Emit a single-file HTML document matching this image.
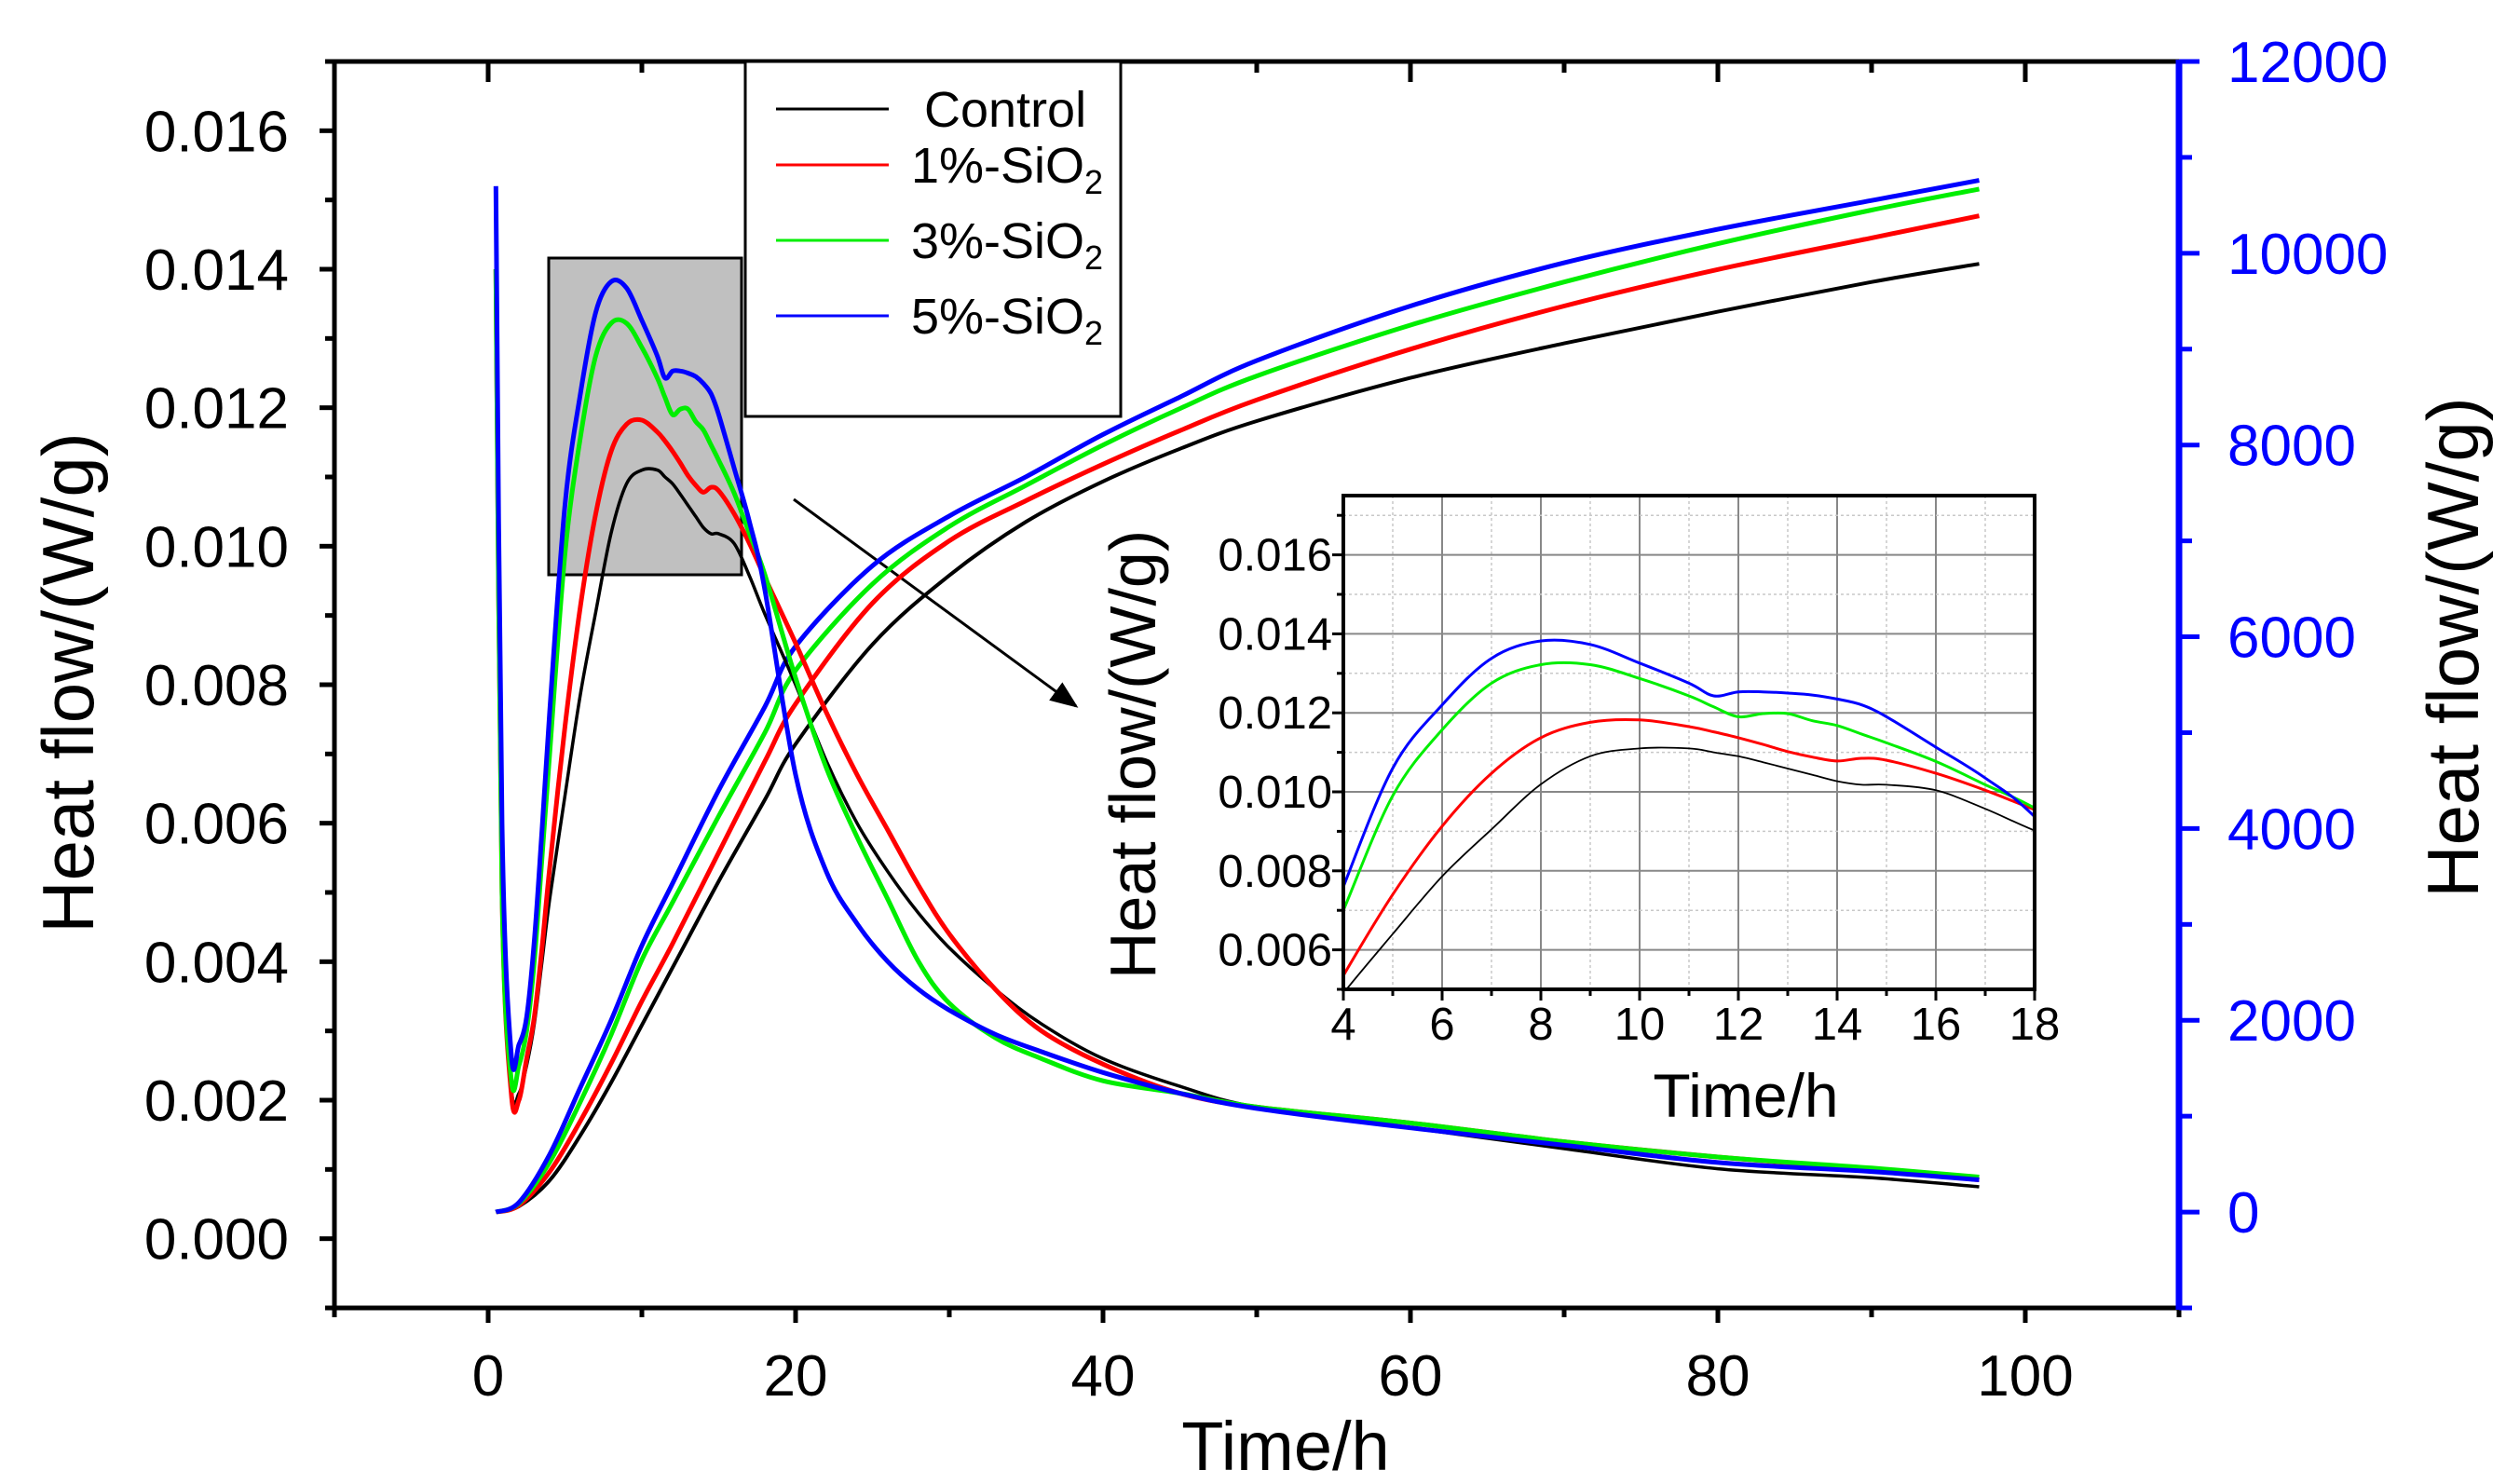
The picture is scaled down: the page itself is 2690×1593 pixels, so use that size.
<!DOCTYPE html>
<html><head><meta charset="utf-8"><style>
html,body{margin:0;padding:0;background:#fff;}
svg{display:block;font-family:"Liberation Sans",Arial,sans-serif;}
</style></head><body>
<svg id="chart" width="2690" height="1593" viewBox="0 0 2690 1593" xmlns="http://www.w3.org/2000/svg">
<defs>
<clipPath id="mainClip"><rect x="359" y="66" width="1980" height="1338"/></clipPath>
<clipPath id="insetClip"><rect x="1442" y="532" width="742" height="530"/></clipPath>
<marker id="arrowHead" markerWidth="10" markerHeight="8" refX="9" refY="4" orient="auto" markerUnits="strokeWidth"><path d="M0,0 L10,4 L0,8 Z" fill="#000"/></marker>
</defs>
<rect x="0" y="0" width="2690" height="1593" fill="#fff"/>
<g id="gridInset"></g>
<g id="highlight"></g>
<g id="series"></g>
<g id="axes"></g>
<g id="legend"></g>
</svg>
<script>
// ---- data ----
const hfTimes = [0.5,0.9,1.5,2,2.5,3,3.5,4,5,6,7,8,9,10,11,11.5,12,12.5,13,13.5,14,14.5,15,16,17,18,20,22,24,26,28,30,33,36,40,45,50,60,70,80,90,97];
const hfControl = [0.014,0.005,0.0022,0.0021,0.0025,0.0031,0.0040,0.0049,0.0064,0.00786,0.00905,0.01019,0.0109,0.0111,0.0111,0.0110,0.0109,0.01075,0.01059,0.01043,0.01027,0.01018,0.01018,0.01004,0.00957,0.00902,0.0080,0.0069,0.0060,0.0053,0.0047,0.0042,0.0036,0.0031,0.0026,0.0022,0.0019,0.0016,0.0013,0.00101,0.00088,0.00075];
const hfSi1 = [0.014,0.005,0.0021,0.0020,0.0026,0.0032,0.0042,0.00535,0.0074,0.00913,0.01047,0.01137,0.01176,0.01182,0.01165,0.01152,0.01137,0.0112,0.01102,0.01088,0.01078,0.01085,0.0108,0.01047,0.01004,0.00955,0.0086,0.0076,0.0067,0.0059,0.0051,0.0044,0.0036,0.0030,0.00252,0.0021,0.0019,0.00167,0.0014,0.00118,0.0010,0.00085];
const hfSi3 = [0.014,0.005,0.0023,0.0025,0.0030,0.0040,0.0055,0.0070,0.0099,0.01157,0.01275,0.01322,0.01322,0.01287,0.01243,0.01215,0.0119,0.01198,0.01198,0.0118,0.01168,0.01146,0.01124,0.01077,0.01018,0.00959,0.0081,0.0068,0.0058,0.0049,0.0040,0.0034,0.0029,0.0026,0.00228,0.0021,0.0019,0.00167,0.0014,0.00118,0.00102,0.00089];
const hfSi5 = [0.0152,0.006,0.00266,0.0028,0.0032,0.0043,0.0059,0.0076,0.0106,0.0122,0.01338,0.01382,0.01373,0.01326,0.01275,0.01243,0.01253,0.01253,0.0125,0.01245,0.01235,0.0122,0.0119,0.01113,0.01035,0.00937,0.0067,0.0053,0.00455,0.0040,0.0036,0.0033,0.00295,0.0027,0.0024,0.0021,0.00188,0.0016,0.00135,0.0011,0.00097,0.00085];
const cumTimes = [0.5,2,4,6,8,10,12,15,18,20,25,30,35,40,45,50,60,70,80,90,97];
const cumControl = [0,60,330,800,1350,1950,2550,3450,4300,4880,5920,6640,7200,7620,7960,8250,8700,9060,9390,9700,9890];
const cumSi1 = [0,70,420,950,1550,2200,2800,3750,4700,5300,6350,7000,7420,7800,8150,8470,9000,9450,9830,10160,10390];
const cumSi3 = [0,90,520,1150,1850,2630,3230,4130,5000,5650,6550,7150,7580,8000,8380,8720,9250,9700,10100,10450,10670];
const cumSi5 = [0,100,600,1300,2000,2780,3430,4400,5270,5900,6740,7260,7670,8110,8500,8880,9450,9900,10250,10550,10760];
const xTicks = [0,20,40,60,80,100];
const yLeftTicks = ["0.000","0.002","0.004","0.006","0.008","0.010","0.012","0.014","0.016"];
const yRightTicks = [0,2000,4000,6000,8000,10000,12000];
const insetXTicks = [4,6,8,10,12,14,16,18];
const insetYTicks = ["0.006","0.008","0.010","0.012","0.014","0.016"];
const seriesNames = ["Control","1%-SiO","3%-SiO","5%-SiO"];
const seriesColors = ["#000000","#ff0000","#00ee00","#0000ff"];

// ---- scales ----
const NS="http://www.w3.org/2000/svg";
const X0=359,X1=2339,Y0=66,Y1=1404;
const xS=v=>X0+(v+10)/120*(X1-X0);
const yL=v=>Y1-(v+0.001)/0.018*(Y1-Y0);
const yR=v=>Y1-(v+1000)/13000*(Y1-Y0);
const IX0=1442,IX1=2184,IY0=532,IY1=1062;
const ixS=v=>IX0+(v-4)/14*(IX1-IX0);
const iyS=v=>IY1-(v-0.005)/0.0125*(IY1-IY0);
function mk(tag,attrs,parent,text){const e=document.createElementNS(NS,tag);for(const k in attrs)e.setAttribute(k,attrs[k]);if(text!==undefined)e.textContent=text;parent.appendChild(e);return e;}
function pathD(xs,ys,fx,fy){const p=xs.map((x,i)=>[fx(x),fy(ys[i])]);let d="M"+p[0][0].toFixed(1)+","+p[0][1].toFixed(1);
 for(let i=0;i<p.length-1;i++){const a=p[Math.max(i-1,0)],b=p[i],c=p[i+1],e=p[Math.min(i+2,p.length-1)];
  const c1=[b[0]+(c[0]-a[0])/6,b[1]+(c[1]-a[1])/6],c2=[c[0]-(e[0]-b[0])/6,c[1]-(e[1]-b[1])/6];
  d+=" C"+c1[0].toFixed(1)+","+c1[1].toFixed(1)+" "+c2[0].toFixed(1)+","+c2[1].toFixed(1)+" "+c[0].toFixed(1)+","+c[1].toFixed(1);}
 return d;}
const gGrid=document.getElementById('gridInset'),gHi=document.getElementById('highlight'),gS=document.getElementById('series'),gA=document.getElementById('axes'),gL=document.getElementById('legend');

// highlight rect + arrow
let r=mk('rect',{x:589,y:277,width:207,height:340,fill:"#c0c0c0",stroke:"#000","stroke-width":3},gHi);


let ar=mk('line',{x1:852,y1:536,x2:1155,y2:758,stroke:"#000","stroke-width":3,"marker-end":"url(#arrowHead)"},gHi);



// main series
const hf=[hfControl,hfSi1,hfSi3,hfSi5],cum=[cumControl,cumSi1,cumSi3,cumSi5];
const mainG=mk('g',{"clip-path":"url(#mainClip)"},gS);
for(let i=0;i<4;i++){
 let p=mk('path',{d:pathD(cumTimes,cum[i],xS,yR),fill:"none",stroke:seriesColors[i],"stroke-width":i==0?4:5},mainG);
 
 
}
for(let i=0;i<4;i++){
 let p=mk('path',{d:pathD(hfTimes,hf[i],xS,yL),fill:"none",stroke:seriesColors[i],"stroke-width":i==0?3.5:5},mainG);
 
 
}

// main axes
mk('rect',{x:X0,y:Y0,width:X1-X0,height:Y1-Y0,fill:"none",stroke:"#000","stroke-width":5},gA);
for(let v=-10;v<=110;v+=10){const x=xS(v),maj=v%20==0;
 mk('line',{x1:x,y1:Y1,x2:x,y2:Y1+(maj?16:10),stroke:"#000","stroke-width":5},gA);
 mk('line',{x1:x,y1:Y0,x2:x,y2:Y0+(maj?22:12),stroke:"#000","stroke-width":5},gA);}
xTicks.forEach(v=>{let t=mk('text',{x:xS(v),y:1498,"font-size":62,"text-anchor":"middle"},gA,String(v));
 
 });
for(let k=-1;k<=17;k++){const v=k*0.001,y=yL(v);
 mk('line',{x1:X0,y1:y,x2:X0-(k%2==0?16:10),y2:y,stroke:"#000","stroke-width":5},gA);}
yLeftTicks.forEach(s=>{let t=mk('text',{x:310,y:yL(parseFloat(s))+22,"font-size":62,"text-anchor":"end"},gA,s);
 
 });
mk('line',{x1:X1,y1:Y0-2,x2:X1,y2:Y1+2,stroke:"#0000ff","stroke-width":7},gA);
for(let v=-1000;v<=12000;v+=1000){const y=yR(v);
 mk('line',{x1:X1,y1:y,x2:X1+(v%2000==0?22:14),y2:y,stroke:"#0000ff","stroke-width":5},gA);}
yRightTicks.forEach(v=>{let t=mk('text',{x:2391,y:yR(v)+22,"font-size":62,fill:"#0000ff"},gA,String(v));
 
 });
let xt=mk('text',{x:1380,y:1578,"font-size":74,"text-anchor":"middle"},gA,"Time/h");


let ylt=mk('text',{x:0,y:0,"font-size":78,"text-anchor":"middle",transform:"translate(100,733) rotate(-90)"},gA,"Heat flow/(W/g)");


let yrt=mk('text',{x:0,y:0,"font-size":78,"text-anchor":"middle",transform:"translate(2660,695) rotate(-90)"},gA,"Heat flow/(W/g)");



// legend
let lb=mk('rect',{x:800,y:66,width:403,height:381,fill:"#fff",stroke:"#000","stroke-width":3},gL);


const legY=[117,177,258,339];
for(let i=0;i<4;i++){
 let g=mk('g',{},gL);
 
 
 mk('line',{x1:833,y1:legY[i],x2:954,y2:legY[i],stroke:seriesColors[i],"stroke-width":3},g);
 let t=mk('text',{x:i==0?992:978,y:legY[i]+19,"font-size":54},g,seriesNames[i]);
 if(i>0){mk('tspan',{"font-size":36,dy:12},t,"2");}
}

// inset
const ig=mk('g',{},gGrid);


mk('rect',{x:IX0,y:IY0,width:IX1-IX0,height:IY1-IY0,fill:"#fff"},ig);
for(let v=4;v<=18;v+=1){const x=ixS(v);mk('line',{x1:x,y1:IY0,x2:x,y2:IY1,stroke:v%2==0?"#888":"#c8c8c8","stroke-width":v%2==0?2:1.5,"stroke-dasharray":v%2==0?"":"3,3"},ig);}
for(let k=5;k<=17;k++){const y=iyS(k*0.001);mk('line',{x1:IX0,y1:y,x2:IX1,y2:y,stroke:k%2==0?"#888":"#c8c8c8","stroke-width":k%2==0?2:1.5,"stroke-dasharray":k%2==0?"":"3,3"},ig);}
const iS=mk('g',{"clip-path":"url(#insetClip)"},ig);
for(let i=0;i<4;i++){
 let p=mk('path',{d:pathD(hfTimes,hf[i],ixS,iyS),fill:"none",stroke:seriesColors[i],"stroke-width":i==0?1.8:3},iS);
 
 
}
mk('rect',{x:IX0,y:IY0,width:IX1-IX0,height:IY1-IY0,fill:"none",stroke:"#000","stroke-width":4},ig);
for(let v=4;v<=18;v++){const x=ixS(v);mk('line',{x1:x,y1:IY1,x2:x,y2:IY1+(v%2==0?12:7),stroke:"#000","stroke-width":3},ig);}
for(let k=5;k<=17;k++){const y=iyS(k*0.001);mk('line',{x1:IX0,y1:y,x2:IX0-(k%2==0?12:7),y2:y,stroke:"#000","stroke-width":3},ig);}
insetXTicks.forEach(v=>{let t=mk('text',{x:ixS(v),y:1116,"font-size":49,"text-anchor":"middle"},ig,String(v));
 
 });
insetYTicks.forEach(s=>{let t=mk('text',{x:1430,y:iyS(parseFloat(s))+17,"font-size":49,"text-anchor":"end"},ig,s);
 
 });
let ixt=mk('text',{x:1874,y:1199,"font-size":66,"text-anchor":"middle"},ig,"Time/h");


let iyt=mk('text',{x:0,y:0,"font-size":70,"text-anchor":"middle",transform:"translate(1240,810) rotate(-90)"},ig,"Heat flow/(W/g)");


</script>
</body></html>
